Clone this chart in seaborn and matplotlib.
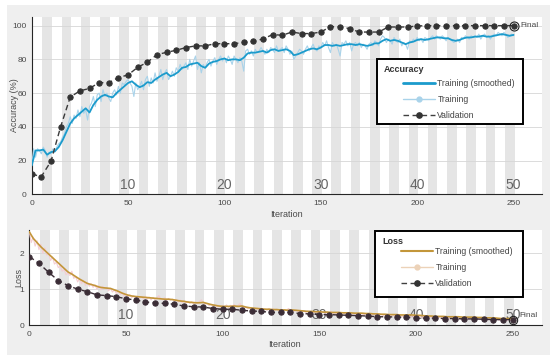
import numpy as np
import pandas as pd
import matplotlib
matplotlib.use("Agg")
import matplotlib.pyplot as plt
from matplotlib.lines import Line2D
from matplotlib.patches import Rectangle
import seaborn as sns

# ---------------- data ----------------
iters_raw = list(range(0, 251))
iters_smooth = list(range(0, 251, 2))
iters_val = list(range(0, 251, 5))
epoch_ticks = [50, 100, 150, 200, 250]
epoch_labels = ["10", "20", "30", "40", "50"]

acc_train_raw = [
    17, 27, 22, 27, 26, 24, 28, 26, 22, 25,
    24, 27, 25, 28, 30, 31, 34, 36, 40, 42,
    46, 42, 47, 45, 50, 46, 52, 48, 50, 44,
    52, 54, 58, 52, 59, 60, 55, 62, 58, 60,
    57, 55, 60, 62, 59, 64, 60, 66, 65, 67,
    68, 66, 64, 58, 66, 62, 64, 67, 62, 68,
    70, 64, 69, 66, 72, 67, 70, 74, 68, 72,
    74, 68, 70, 73, 70, 75, 73, 77, 74, 76,
    78, 74, 80, 76, 79, 82, 74, 78, 72, 77,
    75, 78, 80, 76, 79, 81, 77, 80, 82, 79,
    81, 78, 82, 80, 77, 82, 80, 78, 81, 79,
    73, 85, 86, 83, 85, 82, 86, 84, 85, 87,
    85, 83, 86, 84, 87, 86, 84, 88, 85, 86,
    87, 84, 88, 86, 83, 85, 80, 82, 84, 86,
    85, 83, 86, 88, 85, 87, 89, 86, 85, 88,
    87, 90, 88, 91, 87, 84, 90, 88, 89, 86,
    82, 90, 89, 91, 88, 90, 85, 89, 90, 88,
    90, 87, 89, 88, 86, 89, 90, 88, 91, 90,
    88, 92, 94, 93, 90, 92, 91, 89, 93, 91,
    90, 92, 88, 90, 89, 86, 91, 90, 92, 91,
    93, 91, 92, 90, 93, 92, 91, 93, 94, 92,
    94, 93, 92, 94, 93, 91, 93, 92, 91, 90,
    91, 92, 90, 93, 92, 94, 93, 92, 94, 93,
    94, 93, 95, 92, 94, 95, 93, 94, 92, 94,
    95, 94, 96, 95, 94, 96, 95, 93, 94, 95,
    94,
]

acc_train_smooth = [
    17, 26, 26, 26.5, 23.5, 25, 25.5, 28, 32, 37,
    42, 45, 47, 49, 51, 48.5, 53, 56, 58, 59,
    58, 57.5, 60, 62, 64, 66, 67, 65, 63.5, 64.5,
    66.5, 66, 68, 69.5, 71, 72, 70, 71, 72.5, 75,
    75.5, 77, 77.5, 78, 76, 75, 77.5, 78.5, 79, 80,
    80.5, 79.5, 80, 80, 79.5, 81, 83.5, 84, 84, 84.5,
    85, 84, 85.5, 86, 85, 85.5, 86, 85, 82.5, 83,
    84, 85, 86, 86.5, 86, 87, 88.5, 88.5, 88, 88.5,
    88, 88.5, 89, 89, 88.5, 89, 88.5, 88, 88.5, 89.5,
    89.5, 91, 92, 91, 91.5, 91, 90, 89, 90, 90.5,
    91.5, 92, 91.5, 92, 92.5, 93, 93, 92.5, 92.5, 91.5,
    91, 91.5, 92.5, 93, 93, 93.5, 93.5, 94, 93.5, 93.5,
    94, 94.5, 95, 94.5, 94, 94.5,
]

acc_val = [
    12, 10.5, 19.6, 40, 57.7, 61.3, 62.8, 66.2, 66.2, 69.2,
    70.8, 75.3, 78.3, 82.8, 84.2, 85.4, 87, 88, 88, 89.3,
    89.3, 89.3, 90.1, 90.7, 92.1, 94.7, 94.3, 96.2, 95.3, 95.3,
    96.2, 99.4, 99.4, 98.2, 96.2, 96.2, 96.2, 99.2, 99.2, 99.2,
    99.8, 100, 100, 100, 100, 100, 100, 100, 100, 100,
    100,
]

loss_train_raw = [
    2.6, 2.3, 2.45, 2.2, 2.35, 2.1, 2.25, 2.0, 2.15, 1.95,
    2.0, 1.8, 1.9, 1.7, 1.75, 1.6, 1.65, 1.5, 1.55, 1.4,
    1.45, 1.38, 1.5, 1.3, 1.35, 1.2, 1.3, 1.15, 1.25, 1.1,
    1.2, 1.08, 1.15, 1.05, 1.12, 1.0, 1.1, 0.98, 1.08, 1.0,
    1.05, 0.95, 1.02, 0.92, 0.98, 0.88, 0.95, 0.85, 0.9, 0.8,
    0.88, 0.78, 0.85, 0.76, 0.82, 0.75, 0.8, 0.74, 0.79, 0.73,
    0.8, 0.72, 0.78, 0.7, 0.77, 0.7, 0.76, 0.82, 0.72, 0.7,
    0.76, 0.68, 0.74, 0.69, 0.72, 0.66, 0.71, 0.64, 0.7, 0.62,
    0.68, 0.61, 0.66, 0.6, 0.65, 0.59, 0.64, 0.6, 0.66, 0.7,
    0.62, 0.58, 0.6, 0.54, 0.58, 0.52, 0.56, 0.5, 0.55, 0.49,
    0.54, 0.5, 0.56, 0.49, 0.55, 0.52, 0.57, 0.5, 0.55, 0.6,
    0.51, 0.47, 0.5, 0.45, 0.49, 0.44, 0.48, 0.43, 0.47, 0.42,
    0.46, 0.42, 0.45, 0.41, 0.46, 0.4, 0.45, 0.41, 0.44, 0.4,
    0.44, 0.39, 0.43, 0.4, 0.46, 0.42, 0.41, 0.38, 0.42, 0.37,
    0.41, 0.36, 0.4, 0.35, 0.39, 0.35, 0.38, 0.34, 0.38, 0.33,
    0.37, 0.33, 0.37, 0.32, 0.36, 0.33, 0.38, 0.32, 0.35, 0.31,
    0.36, 0.32, 0.35, 0.31, 0.35, 0.3, 0.34, 0.3, 0.33, 0.29,
    0.33, 0.29, 0.32, 0.28, 0.32, 0.28, 0.31, 0.27, 0.31, 0.27,
    0.3, 0.26, 0.3, 0.26, 0.29, 0.25, 0.29, 0.25, 0.28, 0.24,
    0.28, 0.24, 0.27, 0.23, 0.27, 0.24, 0.26, 0.22, 0.26, 0.22,
    0.26, 0.21, 0.25, 0.21, 0.24, 0.2, 0.24, 0.2, 0.23, 0.19,
    0.23, 0.19, 0.22, 0.18, 0.22, 0.18, 0.21, 0.17, 0.21, 0.17,
    0.21, 0.17, 0.2, 0.16, 0.2, 0.16, 0.19, 0.16, 0.19, 0.15,
    0.19, 0.15, 0.18, 0.15, 0.18, 0.14, 0.18, 0.14, 0.17, 0.14,
    0.17, 0.13, 0.17, 0.13, 0.16, 0.13, 0.16, 0.12, 0.16, 0.12,
    0.15,
]

loss_train_smooth = [
    2.6, 2.42, 2.3, 2.18, 2.08, 1.98, 1.88, 1.78, 1.68, 1.58,
    1.48, 1.42, 1.35, 1.28, 1.22, 1.16, 1.13, 1.1, 1.06, 1.04,
    1.03, 1.02, 0.98, 0.94, 0.89, 0.85, 0.82, 0.8, 0.79, 0.78,
    0.77, 0.76, 0.75, 0.74, 0.73, 0.72, 0.72, 0.71, 0.69, 0.67,
    0.66, 0.64, 0.63, 0.62, 0.62, 0.63, 0.6, 0.57, 0.55, 0.53,
    0.52, 0.52, 0.52, 0.53, 0.52, 0.53, 0.5, 0.48, 0.47, 0.46,
    0.45, 0.44, 0.44, 0.43, 0.43, 0.42, 0.42, 0.41, 0.42, 0.41,
    0.4, 0.39, 0.38, 0.38, 0.37, 0.37, 0.36, 0.36, 0.35, 0.35,
    0.35, 0.34, 0.34, 0.34, 0.33, 0.33, 0.33, 0.32, 0.32, 0.31,
    0.31, 0.3, 0.3, 0.29, 0.29, 0.29, 0.28, 0.28, 0.28, 0.28,
    0.27, 0.27, 0.26, 0.25, 0.25, 0.24, 0.24, 0.24, 0.23, 0.23,
    0.23, 0.23, 0.22, 0.22, 0.22, 0.22, 0.21, 0.21, 0.2, 0.2,
    0.2, 0.19, 0.18, 0.18, 0.18, 0.18,
]

loss_val = [
    1.91, 1.72, 1.47, 1.24, 1.1, 1.0, 0.93, 0.84, 0.82, 0.79,
    0.73, 0.7, 0.64, 0.62, 0.6, 0.58, 0.53, 0.51, 0.5, 0.46,
    0.44, 0.44, 0.41, 0.39, 0.38, 0.35, 0.35, 0.35, 0.32, 0.31,
    0.29, 0.29, 0.28, 0.27, 0.26, 0.25, 0.23, 0.23, 0.22, 0.21,
    0.2, 0.19, 0.19, 0.18, 0.18, 0.17, 0.17, 0.16, 0.15, 0.15,
    0.15,
]

# ---------------- style ----------------
sns.set_style("white")
FONT = ["Liberation Sans Narrow", "Liberation Sans", "DejaVu Sans"]
plt.rcParams["font.family"] = FONT

W, H = 550, 362
fig = plt.figure(figsize=(W / 100, H / 100), dpi=100, facecolor="white")

def fx(px):
    return px / W

def fy(py):
    return 1 - py / H

# gray panel
fig.patches.append(Rectangle((fx(7), fy(355)), 1 - fx(7), fy(5) - fy(355),
                             transform=fig.transFigure, facecolor="#efefef",
                             edgecolor="none", zorder=-5))

ax1 = fig.add_axes([fx(31.7), fy(194.3), fx(541.7) - fx(31.7), fy(16.7) - fy(194.3)])
ax2 = fig.add_axes([fx(29.3), fy(325), fx(541.7) - fx(29.3), fy(230) - fy(325)])

C_ACC = "#1b9bcc"
C_ACC_RAW = "#a9d3ea"
C_VAL = "#3a3a3a"
C_LOSS = "#c3963a"
C_LOSS_RAW = "#f5cdd3"
C_LVAL = "#3b2d36"
TXT = "#4a4a4a"
MS = 3.8

for ax, xmax in ((ax1, 264.6), (ax2, 265)):
    ax.set_facecolor("white")
    for k in range(25):
        ax.axvspan(5.5 + 10 * k, 10.5 + 10 * k, color="#e5e5e5", lw=0, zorder=0)
    ax.set_xlim(0, xmax)
    ax.set_xticks([0, 50, 100, 150, 200, 250])
    ax.grid(axis="y", color="#d6d6d6", lw=0.6)
    ax.set_axisbelow(True)
    for s in ("top", "right"):
        ax.spines[s].set_visible(False)
    for s in ("left", "bottom"):
        ax.spines[s].set_color("#262626")
        ax.spines[s].set_linewidth(0.8)
    ax.tick_params(axis="x", direction="in", length=5, width=0.8, color="#262626",
                   labelsize=6, labelcolor=TXT, pad=4)
    ax.tick_params(axis="y", direction="out", length=2, width=0.6, color="#262626",
                   labelsize=6, labelcolor=TXT, pad=1.5)
    for xt, lab in zip(epoch_ticks, epoch_labels):
        ax.annotate(lab, xy=(xt, 0), xycoords=("data", "axes fraction"),
                    xytext=(0, 2), textcoords="offset points", ha="center",
                    va="bottom", fontsize=10, color="#666666", zorder=3)

# ---------- accuracy ----------
ax1.set_ylim(0, 105.3)
ax1.set_yticks([0, 20, 40, 60, 80, 100])
sns.lineplot(x=iters_raw, y=acc_train_raw, ax=ax1, color=C_ACC_RAW, lw=0.8,
             estimator=None, zorder=3)
sns.lineplot(x=iters_smooth, y=acc_train_smooth, ax=ax1, color=C_ACC, lw=1.3,
             estimator=None, zorder=4)
sns.lineplot(x=iters_val, y=acc_val, ax=ax1, color=C_VAL, lw=1.0, linestyle=(0, (4, 2.5)),
             marker="o", markersize=MS, markerfacecolor="#333333",
             markeredgecolor="#333333", estimator=None, zorder=5)
ax1.plot([iters_val[-1]], [acc_val[-1]], marker="o", markersize=6.5, mfc="none",
         mec="#222222", mew=0.8, zorder=6)
ax1.annotate("Final", xy=(iters_val[-1], acc_val[-1]), xytext=(5, 0),
             textcoords="offset points", va="center", ha="left", fontsize=6,
             color=TXT, zorder=6)
ax1.set_xlabel("Iteration", fontsize=6.5, color=TXT)
ax1.xaxis.set_label_coords(0.4986, -0.111)
ax1.xaxis.label.set_va("center")
ax1.set_ylabel("Accuracy (%)", fontsize=6.5, color=TXT)
ax1.yaxis.set_label_coords(-0.034, 0.503)
ax1.yaxis.label.set_va("center")

# ---------- loss ----------
ax2.set_ylim(0, 2.65)
ax2.set_yticks([0, 1, 2])
sns.lineplot(x=iters_raw, y=loss_train_raw, ax=ax2, color=C_LOSS_RAW, lw=0.8,
             estimator=None, zorder=3)
sns.lineplot(x=iters_smooth, y=loss_train_smooth, ax=ax2, color=C_LOSS, lw=1.2,
             estimator=None, zorder=4)
sns.lineplot(x=iters_val, y=loss_val, ax=ax2, color=C_LVAL, lw=1.0, linestyle=(0, (4, 2.5)),
             marker="o", markersize=MS, markerfacecolor=C_LVAL,
             markeredgecolor=C_LVAL, estimator=None, zorder=5)
ax2.plot([iters_val[-1]], [loss_val[-1]], marker="o", markersize=6, mfc="none",
         mec="#222222", mew=0.8, zorder=6)
ax2.annotate("Final", xy=(iters_val[-1], loss_val[-1]), xytext=(5, 3),
             textcoords="offset points", va="center", ha="left", fontsize=6,
             color=TXT, zorder=6)
ax2.set_xlabel("Iteration", fontsize=6.5, color=TXT)
ax2.xaxis.set_label_coords(0.4986, -0.21)
ax2.xaxis.label.set_va("center")
ax2.set_ylabel("Loss", fontsize=6.5, color=TXT)
ax2.yaxis.set_label_coords(-0.020, 0.505)
ax2.yaxis.label.set_va("center")

# ---------- legends ----------
def make_legend(x0, y0, x1, y1, title, handles, labels, hx, hy):
    fig.patches.append(Rectangle((fx(x0), fy(y1)), fx(x1) - fx(x0), fy(y0) - fy(y1),
                                 transform=fig.transFigure, facecolor="white",
                                 edgecolor="black", lw=1.4, zorder=8))
    fig.text(fx(x0 + 7), fy(y0 + 11), title, fontsize=6.5, fontweight="bold",
             color="#333333", va="center", ha="left", zorder=9)
    fig.legend(handles, labels, loc="upper left", bbox_to_anchor=(fx(hx), fy(hy)),
               frameon=False, fontsize=6.2, handlelength=3.7, handletextpad=0.3,
               labelspacing=0.8, borderpad=0, borderaxespad=0,
               labelcolor="#444444").set_zorder(9)

acc_handles = [
    Line2D([], [], color=C_ACC, lw=2.0),
    Line2D([], [], color=C_ACC_RAW, lw=1.0, marker="o", markersize=3.5,
           markerfacecolor=C_ACC_RAW, markeredgecolor=C_ACC_RAW),
    Line2D([], [], color="#404040", lw=1.0, linestyle=(0, (4, 2.5)), marker="o",
           markersize=MS, markerfacecolor="#333333", markeredgecolor="#333333"),
]
make_legend(376.7, 59, 523.3, 124, "Accuracy", acc_handles,
            ["Training (smoothed)", "Training", "Validation"], 403, 79)

loss_handles = [
    Line2D([], [], color=C_LOSS, lw=1.5),
    Line2D([], [], color="#ecd2b8", lw=1.0, marker="o", markersize=3.5,
           markerfacecolor="#ecd2b8", markeredgecolor="#ecd2b8"),
    Line2D([], [], color="#404040", lw=1.0, linestyle=(0, (4, 2.5)), marker="o",
           markersize=MS, markerfacecolor="#333333", markeredgecolor="#333333"),
]
make_legend(375, 230.7, 523, 297, "Loss", loss_handles,
            ["Training (smoothed)", "Training", "Validation"], 401, 247)

fig.savefig("out.png", dpi=100, facecolor="white")
